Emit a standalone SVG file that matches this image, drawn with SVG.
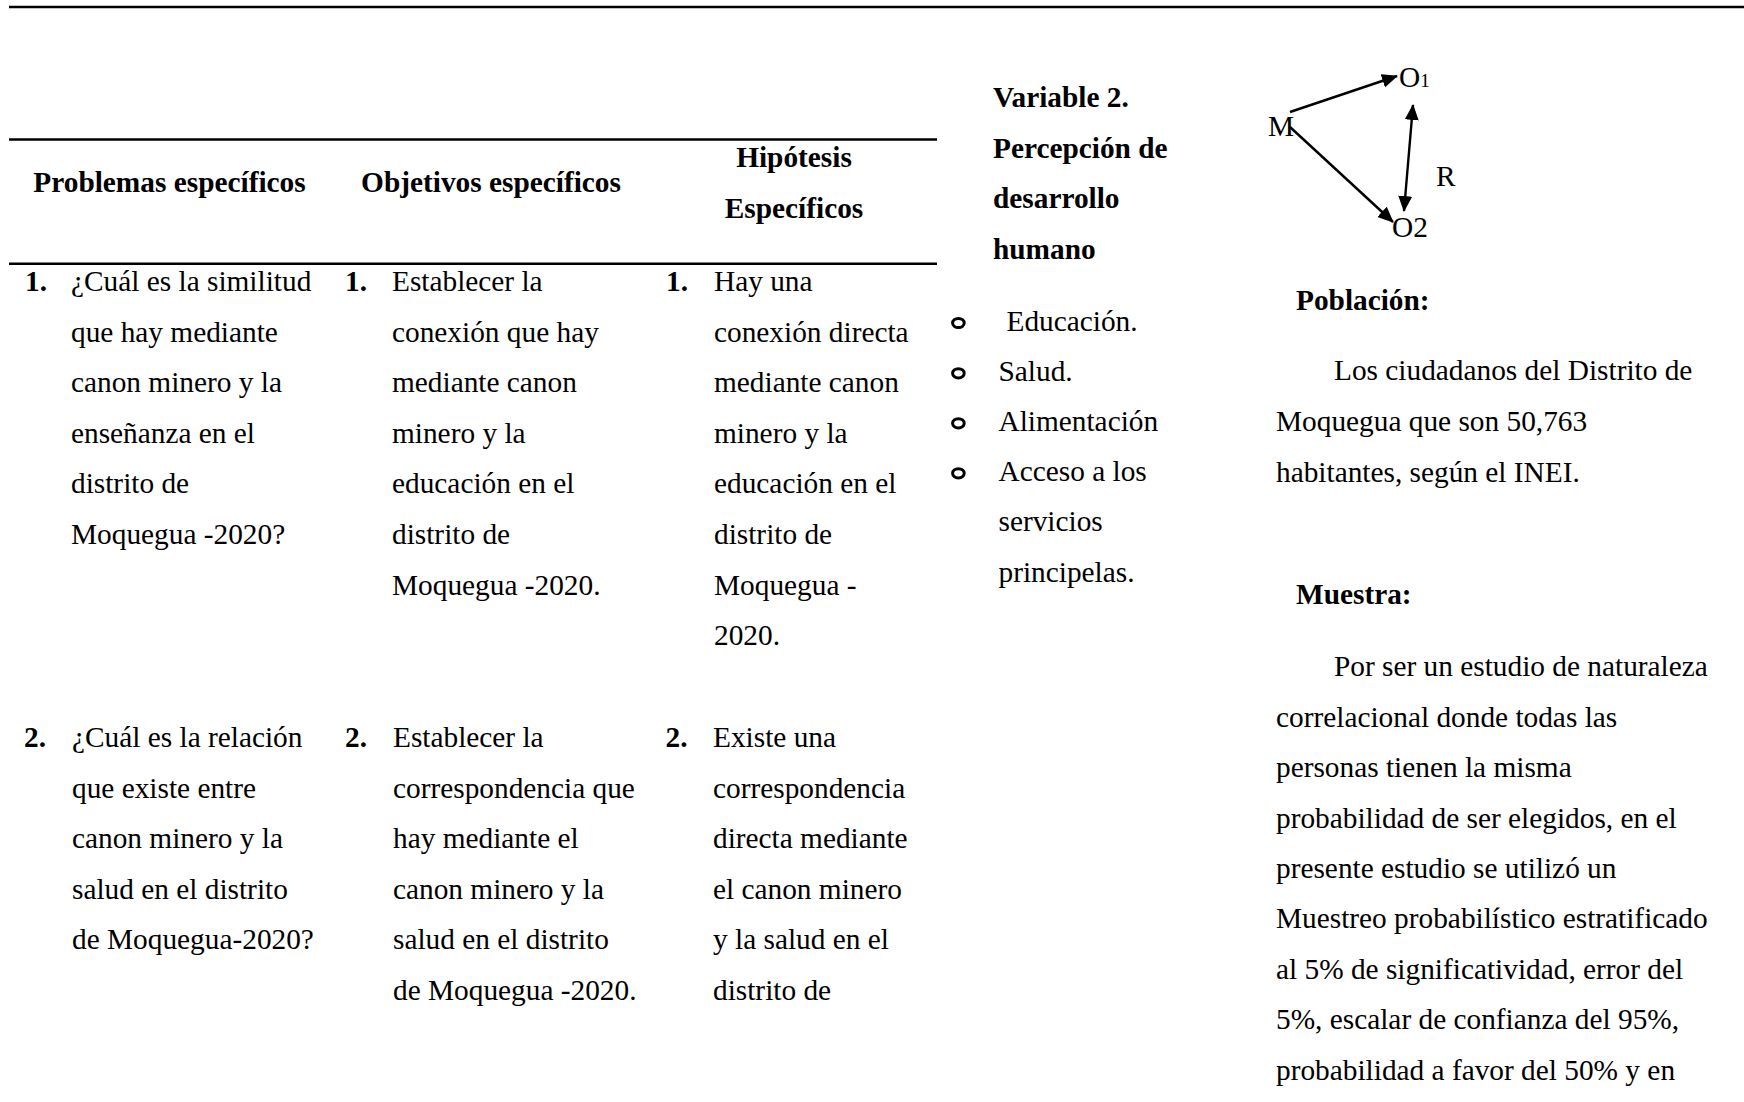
<svg xmlns="http://www.w3.org/2000/svg" width="1744" height="1102" viewBox="0 0 1744 1102">
<style>
  text { font-family: "Liberation Serif", "Times New Roman", serif; font-size: 29.33px; fill: #000; }
  .b { font-weight: bold; }
  .mid { text-anchor: middle; }
  .rule { stroke: #000; stroke-width: 2.4; }
  .conn { stroke: #000; stroke-width: 2.4; fill: none; }
  .bul { fill: none; stroke: #000; stroke-width: 3; }
</style>
<defs>
  <marker id="ah" viewBox="0 0 16 14" refX="15" refY="7" markerWidth="16" markerHeight="14" markerUnits="userSpaceOnUse" orient="auto-start-reverse">
    <path d="M0,0 L16,7 L0,14 z" fill="#000"/>
  </marker>
</defs>
<rect width="1744" height="1102" fill="#fff"/>

<g id="rules">
  <line class="rule" x1="9" y1="7" x2="1744" y2="7"/>
  <line class="rule" x1="9" y1="139.5" x2="937" y2="139.5"/>
  <line class="rule" x1="9" y1="263.8" x2="937" y2="263.8"/>
</g>

<g id="header">
  <text class="b mid" x="169.5" y="192">Problemas específicos</text>
  <text class="b mid" x="491" y="192">Objetivos específicos</text>
  <text class="b mid" x="794" y="167">Hipótesis</text>
  <text class="b mid" x="794" y="217.5">Específicos</text>
</g>

<g id="problema-1">
  <text class="b" x="25" y="291">1.</text>
  <text x="71" y="291">¿Cuál es la similitud<tspan x="71" dy="50.6">que hay mediante</tspan><tspan x="71" dy="50.6">canon minero y la</tspan><tspan x="71" dy="50.6">enseñanza en el</tspan><tspan x="71" dy="50.6">distrito de</tspan><tspan x="71" dy="50.6">Moquegua -2020?</tspan></text>
</g>
<g id="objetivo-1">
  <text class="b" x="345" y="291">1.</text>
  <text x="392" y="291">Establecer la<tspan x="392" dy="50.6">conexión que hay</tspan><tspan x="392" dy="50.6">mediante canon</tspan><tspan x="392" dy="50.6">minero y la</tspan><tspan x="392" dy="50.6">educación en el</tspan><tspan x="392" dy="50.6">distrito de</tspan><tspan x="392" dy="50.6">Moquegua -2020.</tspan></text>
</g>
<g id="hipotesis-1">
  <text class="b" x="666" y="291">1.</text>
  <text x="714" y="291">Hay una<tspan x="714" dy="50.6">conexión directa</tspan><tspan x="714" dy="50.6">mediante canon</tspan><tspan x="714" dy="50.6">minero y la</tspan><tspan x="714" dy="50.6">educación en el</tspan><tspan x="714" dy="50.6">distrito de</tspan><tspan x="714" dy="50.6">Moquegua -</tspan><tspan x="714" dy="50.6">2020.</tspan></text>
</g>

<g id="problema-2">
  <text class="b" x="24" y="747">2.</text>
  <text x="72" y="747">¿Cuál es la relación<tspan x="72" dy="50.6">que existe entre</tspan><tspan x="72" dy="50.6">canon minero y la</tspan><tspan x="72" dy="50.6">salud en el distrito</tspan><tspan x="72" dy="50.6">de Moquegua-2020?</tspan></text>
</g>
<g id="objetivo-2">
  <text class="b" x="345" y="747">2.</text>
  <text x="393" y="747">Establecer la<tspan x="393" dy="50.6">correspondencia que</tspan><tspan x="393" dy="50.6">hay mediante el</tspan><tspan x="393" dy="50.6">canon minero y la</tspan><tspan x="393" dy="50.6">salud en el distrito</tspan><tspan x="393" dy="50.6">de Moquegua -2020.</tspan></text>
</g>
<g id="hipotesis-2">
  <text class="b" x="665.5" y="747">2.</text>
  <text x="713" y="747">Existe una<tspan x="713" dy="50.6">correspondencia</tspan><tspan x="713" dy="50.6">directa mediante</tspan><tspan x="713" dy="50.6">el canon minero</tspan><tspan x="713" dy="50.6">y la salud en el</tspan><tspan x="713" dy="50.6">distrito de</tspan></text>
</g>

<g id="variable-2">
  <text class="b" x="993" y="107">Variable 2.<tspan x="993" dy="50.5">Percepción de</tspan><tspan x="993" dy="50.5">desarrollo</tspan><tspan x="993" dy="50.5">humano</tspan></text>
</g>

<g id="dimensiones">
  <ellipse class="bul" cx="958.4" cy="323" rx="5.8" ry="4.6"/>
  <ellipse class="bul" cx="958.4" cy="373.3" rx="5.8" ry="4.6"/>
  <ellipse class="bul" cx="958.4" cy="423.3" rx="5.8" ry="4.6"/>
  <ellipse class="bul" cx="958.4" cy="473.3" rx="5.8" ry="4.6"/>
  <text x="1006.5" y="330.5">Educación.</text>
  <text x="998.5" y="380.5">Salud.</text>
  <text x="998.5" y="430.5">Alimentación</text>
  <text x="998.5" y="480.5">Acceso a los<tspan x="998.5" dy="50.5">servicios</tspan><tspan x="998.5" dy="50.5">principelas.</tspan></text>
</g>

<g id="node-M"><text x="1268" y="136">M</text></g>
<g id="node-O1"><text x="1399" y="87">O<tspan font-size="19">1</tspan></text></g>
<g id="node-O2"><text x="1392" y="237">O2</text></g>
<g id="label-R"><text x="1436" y="186">R</text></g>

<g id="connectors">
  <line class="conn" x1="1290" y1="112" x2="1397" y2="76" marker-end="url(#ah)"/>
  <line class="conn" x1="1290" y1="127" x2="1393" y2="222" marker-end="url(#ah)"/>
  <line class="conn" x1="1404" y1="211" x2="1413" y2="105" marker-start="url(#ah)" marker-end="url(#ah)"/>
</g>

<g id="poblacion">
  <text class="b" x="1296" y="309.5">Población:</text>
  <text x="1334" y="380">Los ciudadanos del Distrito de</text>
  <text x="1276" y="431">Moquegua que son 50,763</text>
  <text x="1276" y="481.5">habitantes, según el INEI.</text>
</g>

<g id="muestra">
  <text class="b" x="1296" y="603.5">Muestra:</text>
  <text x="1334" y="676">Por ser un estudio de naturaleza</text>
  <text x="1276" y="726.7">correlacional donde todas las<tspan x="1276" dy="50.4">personas tienen la misma</tspan><tspan x="1276" dy="50.4">probabilidad de ser elegidos, en el</tspan><tspan x="1276" dy="50.4">presente estudio se utilizó un</tspan><tspan x="1276" dy="50.4">Muestreo probabilístico estratificado</tspan><tspan x="1276" dy="50.4">al 5% de significatividad, error del</tspan><tspan x="1276" dy="50.4">5%, escalar de confianza del 95%,</tspan><tspan x="1276" dy="50.4">probabilidad a favor del 50% y en</tspan></text>
</g>
</svg>
